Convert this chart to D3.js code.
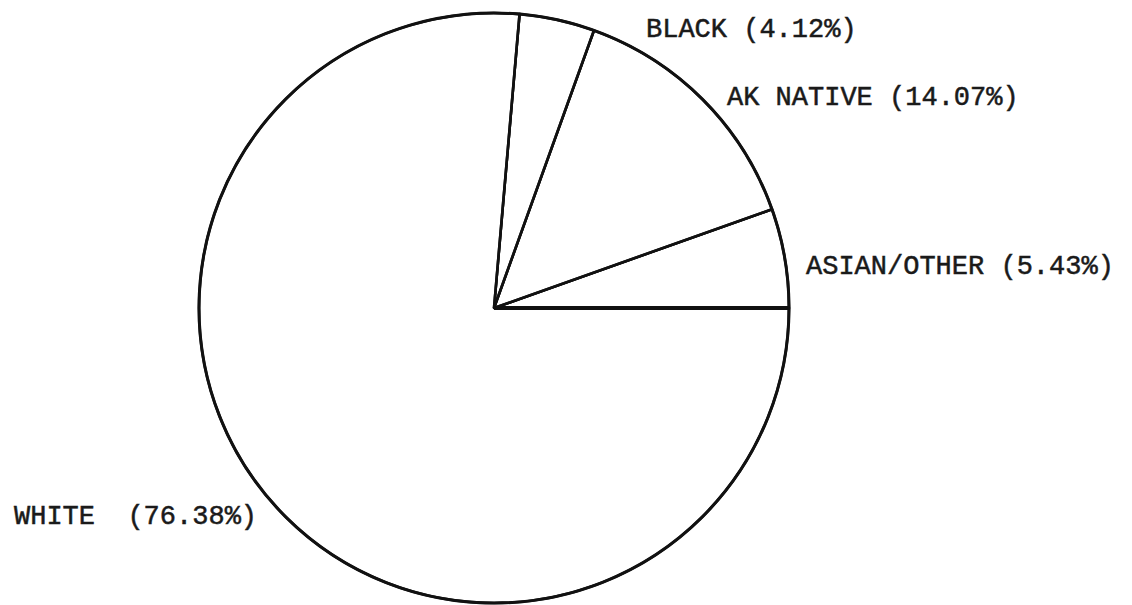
<!DOCTYPE html>
<html>
<head>
<meta charset="utf-8">
<script src="https://cdn.jsdelivr.net/npm/d3@7"></script>
<style>
  html, body { margin: 0; padding: 0; background: #fff; }
  svg text { font-family: "Liberation Mono", "DejaVu Sans Mono", monospace; white-space: pre; }
</style>
</head>
<body>
<svg id="chart" width="1132" height="605"></svg>
<script>
// Data (counter-clockwise from 3 o'clock)
const categories = ["ASIAN/OTHER", "AK NATIVE", "BLACK", "WHITE"];
const values = [5.43, 14.07, 4.12, 76.38];
const labelSeparators = [" ", " ", " ", "  "];

// Layout
const width = 1132, height = 605;
const cx = 494, cy = 308, r = 295;
const labelPos = {
  "ASIAN/OTHER": [806, 274],
  "AK NATIVE": [727, 105],
  "BLACK": [646, 37],
  "WHITE": [14, 524]
};

const svg = d3.select("#chart");
const g = svg.append("g").attr("transform", `translate(${cx},${cy})`);

const pie = d3.pie()
  .sort(null)
  .value(d => d.value)
  .startAngle(Math.PI / 2)
  .endAngle(Math.PI / 2 - 2 * Math.PI);

const data = categories.map((c, i) => ({ cat: c, value: values[i], sep: labelSeparators[i] }));
const arcs = pie(data);
const arc = d3.arc().innerRadius(0).outerRadius(r);

g.selectAll("path.slice")
  .data(arcs)
  .join("path")
  .attr("class", "slice")
  .attr("d", arc)
  .attr("fill", "#fff")
  .attr("stroke", "#111")
  .attr("stroke-width", 2.6)
  .attr("stroke-linejoin", "round");

// radial boundary lines
g.selectAll("line.edge")
  .data(arcs)
  .join("line")
  .attr("class", "edge")
  .attr("x1", 0).attr("y1", 0)
  .attr("x2", d => r * Math.sin(d.startAngle))
  .attr("y2", d => -r * Math.cos(d.startAngle))
  .attr("stroke", "#111")
  .attr("stroke-width", (d, i) => i === 0 ? 4 : 2.6);

// outer circle
g.append("circle")
  .attr("r", r)
  .attr("fill", "none")
  .attr("stroke", "#111")
  .attr("stroke-width", 3);

// labels
svg.selectAll("text.lbl")
  .data(data)
  .join("text")
  .attr("class", "lbl")
  .attr("x", d => labelPos[d.cat][0])
  .attr("y", d => labelPos[d.cat][1])
  .attr("font-size", 27)
  .attr("fill", "#1a1a1a")
  .attr("stroke", "#1a1a1a")
  .attr("stroke-width", 0.5)
  .text(d => `${d.cat}${d.sep}(${d.value.toFixed(2)}%)`);
</script>
</body>
</html>
